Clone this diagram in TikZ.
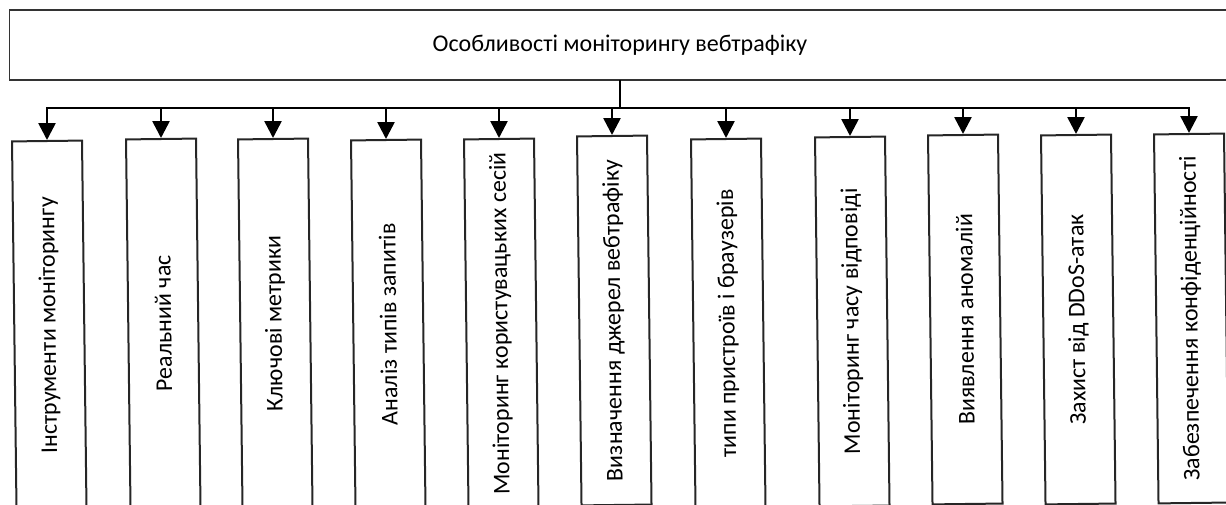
\documentclass[tikz,border=0pt]{standalone}
\usepackage{fontspec}
\setmainfont{Carlito}
\usetikzlibrary{arrows.meta}
\begin{document}
\begin{tikzpicture}[x=1pt,y=1pt,
  busline/.style={line width=2.6pt, draw=black, line cap=rect},
  boxstyle/.style={draw=black!85, line width=2pt, fill=white, minimum width=369pt, minimum height=70pt, inner sep=0pt, rotate=90.7, font=\fontsize{24}{28}\selectfont, anchor=east},
  topbox/.style={draw=black!80, line width=1.8pt, minimum width=1221pt, minimum height=70pt, inner sep=0pt, font=\fontsize{24}{28}\selectfont},
  arr/.style={line width=2.6pt, draw=black, -{Triangle[width=17pt,length=17pt]}}]
\useasboundingbox (0,0) rectangle (1226,-504);
\clip (0,0) rectangle (1226,-504);
\node[topbox] (top) at (620,-45) {Особливості моніторингу вебтрафіку};
\coordinate (j) at (620,-108);
\foreach \i/\x/\yt/\t in {
  1/47/140/{Інструменти моніторингу},
  2/161/138/{Реальний час},
  3/273/138/{Ключові метрики},
  4/386/139/{Аналіз типів запитів},
  5/499/138/{Моніторинг користувацьких сесій},
  6/612/135/{Визначення джерел вебтрафіку},
  7/726/138/{типи пристроїв і браузерів},
  8/850/136/{Моніторинг часу відповіді},
  9/963/134/{Виявлення аномалій},
  10/1076/134/{Захист від DDoS-атак},
  11/1189/133/{Забезпечення конфіденційності}} {
  \coordinate (c\i) at (\x,-108);
  \node[boxstyle] (b\i) at (\x,-\yt) {\t};
}
\draw[busline] (top.south) -- (j);
\draw[busline] (c1) -- (c11);
\foreach \i in {1,...,11} {
  \draw[arr] (c\i) -- (b\i.east);
}
\end{tikzpicture}
\end{document}
